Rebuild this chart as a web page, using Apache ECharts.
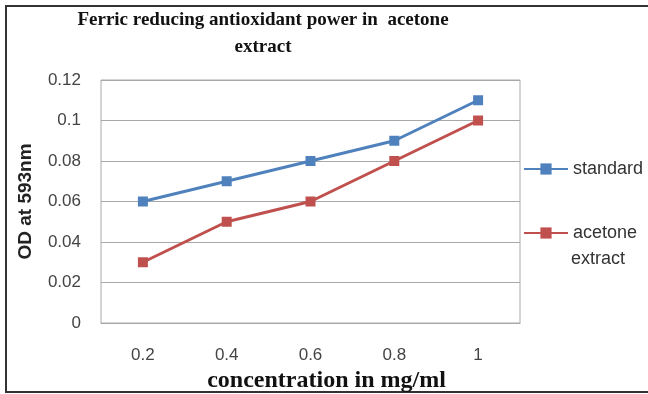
<!DOCTYPE html>
<html>
<head>
<meta charset="utf-8">
<script src="https://cdn.jsdelivr.net/npm/echarts@6/dist/echarts.min.js"></script>
<style>
html,body{margin:0;padding:0;background:#fff;}
#c{width:648px;height:394px;}
</style>
</head>
<body>
<div id="c"></div>
<script>
const categories = ['0.2', '0.4', '0.6', '0.8', '1'];
const standard = [0.06, 0.07, 0.08, 0.09, 0.11];
const acetoneExtract = [0.03, 0.05, 0.06, 0.08, 0.10];
const titleText = 'Ferric reducing antioxidant power in  acetone\nextract';
const xName = 'concentration in mg/ml';
const yName = 'OD at 593nm';
const legendNames = ['standard', 'acetone extract'];
const legendLines = [['standard'], ['acetone', 'extract']];

const chart = echarts.init(document.getElementById('c'));
const sans = '"Liberation Sans", Arial, sans-serif';
const serif = '"Liberation Serif", "Times New Roman", serif';
chart.setOption({
  animation: false,
  backgroundColor: '#fff',
  graphic: [{
    type: 'rect',
    shape: { x: 6, y: 6, width: 700, height: 386 },
    style: { fill: 'none', stroke: '#333', lineWidth: 2 }
  }, {
    type: 'text', left: 571, top: 250,
    style: { text: legendLines[1][1], font: '18px "Liberation Sans", Arial, sans-serif', fill: '#333' }
  }],
  title: {
    text: titleText,
    left: 258, top: 2, textAlign: 'center',
    textStyle: { fontFamily: serif, fontWeight: 'bold', fontSize: 19, lineHeight: 27, color: '#111' }
  },
  grid: { left: 101, right: 128, top: 80, bottom: 71, show: true, borderColor: '#a8a8a8', borderWidth: 1, containLabel: false, outerBoundsMode: 'none' },
  legend: [{
    data: [legendNames[0]], left: 523, top: 160, orient: 'vertical', padding: 0,
    itemWidth: 44, itemHeight: 14,
    formatter: function(){ return legendLines[0][0]; },
    textStyle: { fontFamily: sans, fontSize: 18, color: '#333' }
  }, {
    data: [legendNames[1]], left: 523, top: 224, orient: 'vertical', padding: 0,
    itemWidth: 44, itemHeight: 14,
    formatter: function(){ return legendLines[1][0]; },
    textStyle: { fontFamily: sans, fontSize: 18, color: '#333' }
  }],
  xAxis: {
    type: 'category', data: categories, boundaryGap: true,
    name: xName, nameLocation: 'middle', nameGap: 42,
    nameTextStyle: { fontFamily: serif, fontWeight: 'bold', fontSize: 24, color: '#111', padding: [0,0,0,32] },
    axisLine: { show: true, lineStyle: { color: '#a8a8a8' } },
    axisTick: { show: false },
    axisLabel: { fontFamily: sans, fontSize: 17, color: '#444', margin: 24 }
  },
  yAxis: {
    type: 'value', min: 0, max: 0.12, interval: 0.02,
    name: yName, nameLocation: 'middle', nameGap: 66,
    nameTextStyle: { fontFamily: sans, fontWeight: 'bold', fontSize: 19, color: '#222' },
    axisLine: { show: false }, axisTick: { show: false },
    axisLabel: { fontFamily: sans, fontSize: 17, color: '#444', margin: 20 },
    splitLine: { lineStyle: { color: '#a8a8a8', width: 1 } }
  },
  series: [{
    name: legendNames[0], type: 'line', data: standard,
    symbol: 'rect', symbolSize: 10,
    itemStyle: { color: '#4F81BD' },
    lineStyle: { color: '#4F81BD', width: 3 }
  }, {
    name: legendNames[1], type: 'line', data: acetoneExtract,
    symbol: 'rect', symbolSize: 10,
    itemStyle: { color: '#C0504D' },
    lineStyle: { color: '#C0504D', width: 3 }
  }]
});
</script>
</body>
</html>
